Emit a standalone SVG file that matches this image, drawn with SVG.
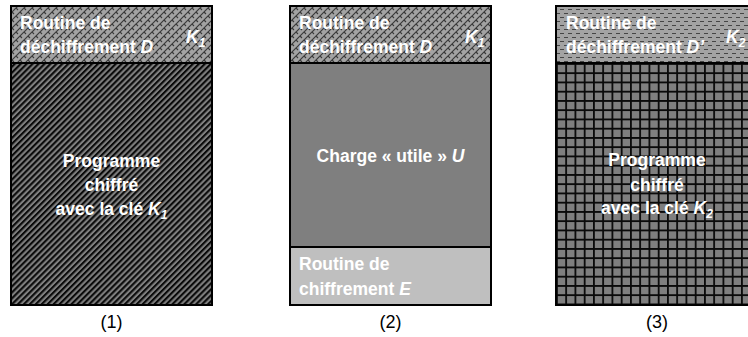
<svg xmlns="http://www.w3.org/2000/svg" width="748" height="337" viewBox="0 0 748 337">
  <style>
    .frame { stroke: #000; stroke-width: 2; }
    .lbl { font-family: "Liberation Sans", Arial, sans-serif; font-weight: bold; font-size: 17.5px; fill: #fff; }
    .mid { text-anchor: middle; }
    .cap { font-family: "Liberation Sans", Arial, sans-serif; font-size: 18px; fill: #000; text-anchor: middle; }
    .it { font-style: italic; }
    .sub { font-size: 12px; }
  </style>
  <defs>
    <!-- shingle texture for the decryption routine header -->
    <pattern id="shingle" width="8" height="8" patternUnits="userSpaceOnUse">
      <rect width="8" height="8" fill="#a3a3a3"/>
      <path d="M-1,9 L9,-1 M-1,1 L1,-1 M7,9 L9,7" stroke="#3a3a3a" stroke-width="1.2"/>
      <path d="M0,0 L4,4 M4,4 L8,8" stroke="#3a3a3a" stroke-width="1.2" stroke-dasharray="2.8 2.8"/>
    </pattern>
    <!-- wide upward diagonal stripes -->
    <pattern id="stripes" width="4.2" height="4.2" patternUnits="userSpaceOnUse" patternTransform="rotate(45)">
      <rect width="4.2" height="4.2" fill="#7f7f7f"/>
      <rect x="0" y="0" width="2.1" height="4.2" fill="#0a0a0a"/>
    </pattern>
    <!-- dashed horizontal texture -->
    <pattern id="dashes" width="8" height="8" patternUnits="userSpaceOnUse">
      <rect width="8" height="8" fill="#a3a3a3"/>
      <path d="M0,1.5 H4 M4,5.5 H8" stroke="#454545" stroke-width="1"/>
    </pattern>
    <!-- large grid -->
    <pattern id="grid" x="556" y="63" width="9.25" height="9.25" patternUnits="userSpaceOnUse">
      <rect width="9.25" height="9.25" fill="#7f7f7f"/>
      <path d="M0.9,0 V9.25 M0,0.9 H9.25" stroke="#0a0a0a" stroke-width="1.8"/>
    </pattern>
  </defs>

  <!-- (1) decryption routine D over the payload encrypted with K1 -->
  <g id="block1">
    <rect x="11" y="6" width="201" height="57" fill="url(#shingle)" class="frame"/>
    <rect x="11" y="63" width="201" height="242" fill="url(#stripes)" class="frame"/>
    <text class="lbl" x="20" y="29">Routine de</text>
    <text class="lbl" x="20" y="53">déchiffrement <tspan class="it">D</tspan></text>
    <text class="lbl it" x="186" y="43">K<tspan class="sub" dy="4">1</tspan></text>
    <text class="lbl mid" x="111.5" y="167">Programme</text>
    <text class="lbl mid" x="111.5" y="191">chiffré</text>
    <text class="lbl mid" x="111.5" y="215">avec la clé <tspan class="it">K</tspan><tspan class="it sub" dy="4">1</tspan></text>
    <text class="cap" x="111.5" y="328">(1)</text>
  </g>

  <!-- (2) decrypted image: D, payload U, encryption routine E -->
  <g id="block2">
    <rect x="290" y="6" width="201" height="57" fill="url(#shingle)" class="frame"/>
    <rect x="290" y="63" width="201" height="184" fill="#7f7f7f" class="frame"/>
    <rect x="290" y="247" width="201" height="58" fill="#bfbfbf" class="frame"/>
    <text class="lbl" x="299" y="29">Routine de</text>
    <text class="lbl" x="299" y="53">déchiffrement <tspan class="it">D</tspan></text>
    <text class="lbl it" x="465" y="43">K<tspan class="sub" dy="4">1</tspan></text>
    <text class="lbl mid" x="390.5" y="162">Charge « utile » <tspan class="it">U</tspan></text>
    <text class="lbl" x="299" y="270">Routine de</text>
    <text class="lbl" x="299" y="295">chiffrement <tspan class="it">E</tspan></text>
    <text class="cap" x="390.5" y="328">(2)</text>
  </g>

  <!-- (3) new decryption routine D' over the payload re-encrypted with K2 -->
  <g id="block3">
    <rect x="556" y="6" width="201" height="57" fill="url(#dashes)" class="frame"/>
    <rect x="556" y="63" width="201" height="242" fill="url(#grid)" class="frame"/>
    <text class="lbl" x="566" y="29">Routine de</text>
    <text class="lbl" x="566" y="53">déchiffrement <tspan class="it">D’</tspan></text>
    <text class="lbl it" x="726" y="43">K<tspan class="sub" dy="4">2</tspan></text>
    <text class="lbl mid" x="657" y="166">Programme</text>
    <text class="lbl mid" x="657" y="191">chiffré</text>
    <text class="lbl mid" x="657" y="214">avec la clé <tspan class="it">K</tspan><tspan class="it sub" dy="4">2</tspan></text>
    <text class="cap" x="657" y="328">(3)</text>
  </g>

  <g id="connectors"/>
</svg>
